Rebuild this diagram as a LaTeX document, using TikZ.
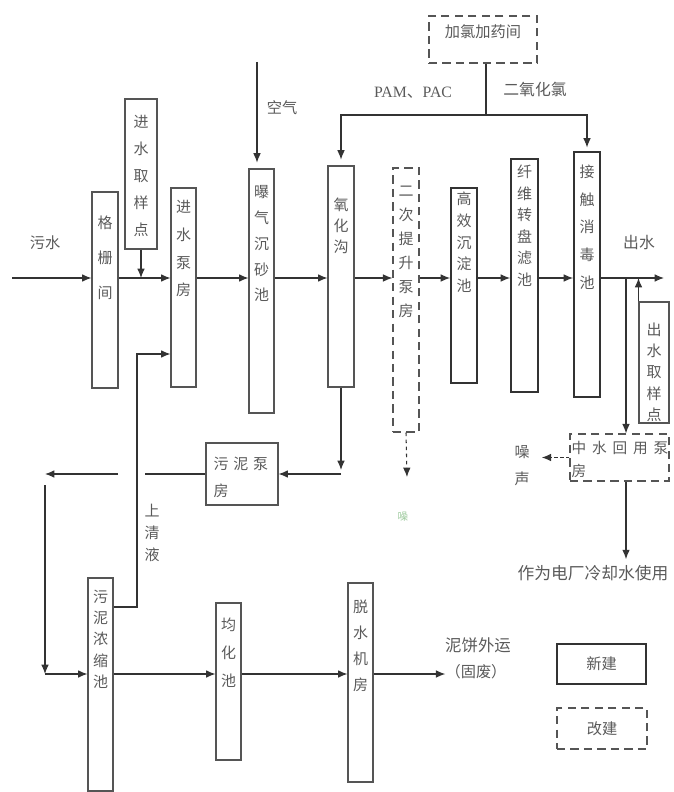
\documentclass[tikz,border=0pt]{standalone}
\usepackage{fontspec}
\setmainfont{Noto Sans CJK SC}
\newfontfamily\latinfont{Liberation Serif}
\usetikzlibrary{arrows.meta, calc}
\definecolor{linec}{HTML}{333333}
\definecolor{edgec}{HTML}{555555}
\definecolor{textc}{HTML}{5A5A5A}
\newcommand{\pxu}{0.03cm}
\tikzset{
  tank/.style  = {draw=edgec, rectangle, line width=0.9pt, inner sep=0pt},
  btank/.style = {tank, line width=1.6pt, draw=linec},
  dtank/.style = {tank, line width=1.1pt, dash pattern=on 7pt off 4.5pt},
  vt/.style    = {font=\fontsize{12.8}{#1}\selectfont, align=center,
                  inner sep=0pt, text=textc},
  htext/.style = {font=\fontsize{13}{15}\selectfont, inner sep=0pt, text=textc},
  pipe/.style  = {draw=linec, line width=0.9pt},
  flow/.style  = {pipe, -{Latex[length=8pt, width=6.5pt]}},
}

\begin{document}
\begin{tikzpicture}[x=0.03cm, y=-0.03cm]
  \useasboundingbox (0,0) rectangle (673,792);

  %% water line
  \node[tank, minimum width=26*\pxu, minimum height=196*\pxu,
        label={[vt=30pt, anchor=north, yshift=-24*\pxu]north:格\\栅\\间}]
        (grid) at (105,290) {};
  \node[tank, minimum width=32*\pxu, minimum height=150*\pxu,
        label={[vt=23pt, anchor=north, yshift=-17*\pxu]north:进\\水\\取\\样\\点}]
        (insample) at (141,174) {};
  \node[tank, minimum width=25*\pxu, minimum height=199*\pxu,
        label={[vt=23.5pt, anchor=north, yshift=-13*\pxu]north:进\\水\\泵\\房}]
        (inpump) at (183.5,287.5) {};
  \node[tank, minimum width=25*\pxu, minimum height=244*\pxu,
        label={[vt=22pt, anchor=north, yshift=-17*\pxu]north:曝\\气\\沉\\砂\\池}]
        (grit) at (261.5,291) {};
  \node[tank, minimum width=26*\pxu, minimum height=221*\pxu,
        label={[vt=18pt, anchor=north, yshift=-32*\pxu]north:氧\\化\\沟}]
        (oxd) at (341,276.5) {};
  \node[dtank, minimum width=26*\pxu, minimum height=264*\pxu,
        label={[vt=20.5pt, anchor=north, yshift=-18*\pxu]north:二\\次\\提\\升\\泵\\房}]
        (lift) at (406,300) {};
  \node[btank, minimum width=26*\pxu, minimum height=195*\pxu,
        label={[vt=18.5pt, anchor=north, yshift=-5*\pxu]north:高\\效\\沉\\淀\\池}]
        (sed) at (464,285.5) {};
  \node[btank, minimum width=27*\pxu, minimum height=233*\pxu,
        label={[vt=18.3pt, anchor=north, yshift=-7*\pxu]north:纤\\维\\转\\盘\\滤\\池}]
        (filt) at (524.5,275.5) {};
  \node[btank, minimum width=26*\pxu, minimum height=245*\pxu,
        label={[vt=23.5pt, anchor=north, yshift=-14*\pxu]north:接\\触\\消\\毒\\池}]
        (dis) at (587,274.5) {};
  \node[tank, minimum width=30*\pxu, minimum height=121*\pxu,
        label={[vt=18.2pt, anchor=north, yshift=-21*\pxu]north:出\\水\\取\\样\\点}]
        (outsample) at (654,362.5) {};

  %% dosing and reuse
  \node[dtank, minimum width=108*\pxu, minimum height=47*\pxu,
        label={[htext, anchor=north, yshift=-9*\pxu]north:加氯加药间}]
        (dose) at (483,39.5) {};
  \node[dtank, minimum width=99*\pxu, minimum height=47*\pxu,
        label={[htext, font=\fontsize{12.5}{19}\selectfont, align=left,
                anchor=north west, xshift=2*\pxu, yshift=-8*\pxu]north west:%
                中\hspace{5pt}水\hspace{5pt}回\hspace{5pt}用\hspace{5pt}泵\\房}]
        (reuse) at (619.5,457.5) {};

  %% sludge line
  \node[tank, minimum width=72*\pxu, minimum height=62*\pxu,
        label={[htext, font=\fontsize{12.8}{23}\selectfont, align=left,
                anchor=north west, xshift=8*\pxu, yshift=-14*\pxu]north west:%
                污\hspace{4pt}泥\hspace{4pt}泵\\房}]
        (spump) at (242,474) {};
  \node[tank, minimum width=25*\pxu, minimum height=213*\pxu,
        label={[vt=18.3pt, anchor=north, yshift=-12*\pxu]north:污\\泥\\浓\\缩\\池}]
        (thick) at (100.5,684.5) {};
  \node[tank, minimum width=25*\pxu, minimum height=157*\pxu,
        label={[vt=23.8pt, anchor=north, yshift=-15*\pxu]north:均\\化\\池}]
        (homog) at (228.5,681.5) {};
  \node[tank, minimum width=25*\pxu, minimum height=199*\pxu,
        label={[vt=22.2pt, anchor=north, yshift=-17*\pxu]north:脱\\水\\机\\房}]
        (dewater) at (360.5,682.5) {};

  %% legend
  \node[btank, htext, minimum width=89*\pxu, minimum height=40*\pxu]
        (newleg) at (601.5,664) {新建};
  \node[dtank, htext, minimum width=90*\pxu, minimum height=41*\pxu]
        (modleg) at (602,728.5) {改建};

  %% free texts
  \node[htext] (feedlbl)  at (45,243)  {污水};
  \node[htext] (airlbl)   at (282,108) {空气};
  \node[htext, font=\fontsize{13.5}{15}\latinfont] (pamlbl) at (413,93)
        {PAM{\fontspec{Noto Sans CJK SC}、}PAC};
  \node[htext, font=\fontsize{13.5}{15}\selectfont] (clolbl) at (535,89) {二氧化氯};
  \node[htext, font=\fontsize{13.5}{15}\selectfont] (outlbl) at (639,243) {出水};
  \node[vt=19pt] (superlbl) at (152,533) {上\\清\\液};
  \node[vt=23pt] (noise)  at (522,466) {噪\\声};
  \node[htext, font=\fontsize{9}{10}\selectfont, text=green!30!gray!60]
        (liftnoise) at (403,517) {噪};
  \node[htext, font=\fontsize{14.3}{16}\selectfont] (cool) at (593,573)
        {作为电厂冷却水使用};
  \node[htext, font=\fontsize{14}{16}\selectfont] (cake)  at (478,645) {泥饼外运};
  \node[htext, font=\fontsize{13}{15}\selectfont] (waste) at (476,672) {（固废）};

  %% main flow
  \coordinate (feed)   at (12,278);
  \coordinate (outlet) at (664,278);
  \draw[flow] (feed) -- (feed -| grid.west);
  \draw[flow] (grid.east |- feed)    -- (inpump.west |- feed);
  \draw[flow] (insample.south)       -- (insample.south |- feed);
  \draw[flow] (inpump.east |- feed)  -- (grit.west |- feed);
  \draw[flow] (grit.east |- feed)    -- (oxd.west |- feed);
  \draw[flow] (oxd.east |- feed)     -- (lift.west |- feed);
  \draw[flow] (lift.east |- feed)    -- (sed.west |- feed);
  \draw[flow] (sed.east |- feed)     -- (filt.west |- feed);
  \draw[flow] (filt.east |- feed)    -- (dis.west |- feed);
  \draw[flow] (dis.east |- feed)     -- (outlet);

  %% air and chemicals
  \coordinate (air) at (257,62);
  \draw[flow, shorten >=5pt] (air) -- (air |- grit.north);
  \coordinate (bus) at (486,115);
  \draw[pipe] (dose.south -| bus) -- (bus);
  \draw[flow, shorten >=5pt] (bus) -| (oxd.north);
  \draw[flow, shorten >=3pt] (bus) -| (dis.north);

  %% outlet branches
  \draw[flow] (outsample.north west) -- (outsample.north west |- feed);
  \coordinate (tap) at (626,278);
  \draw[flow] (tap) -- (tap |- reuse.north);
  \draw[flow, shorten >=5pt] (tap |- reuse.south) -- (tap |- cool.north);
  \draw[flow, dash pattern=on 3pt off 2pt]
       (reuse.west) -- ($(noise.east |- reuse.west)+(12,0)$);
  \coordinate (liftend) at (407,477);
  \draw[flow, dash pattern=on 3pt off 3pt] (lift.south) -- (liftend);

  %% sludge return
  \coordinate (sjoin) at (341,470);
  \draw[flow] (oxd.south) -- (sjoin);
  \draw[flow] (sjoin |- spump.east) -- (spump.east);
  \coordinate (gapE)  at (145,474);
  \coordinate (gapW)  at (118,474);
  \coordinate (sleft) at (45,474);
  \draw[pipe] (spump.west) -- (gapE);
  \draw[flow] (gapW) -- (sleft);
  \coordinate (sdown)   at (45,485);
  \coordinate (scorner) at (45,674);
  \draw[flow] (sdown) -- (scorner);
  \draw[flow] (scorner) -- (scorner -| thick.west);

  %% supernatant back to inlet pump
  \coordinate (retA) at (137,607);
  \coordinate (retB) at (137,354);
  \draw[flow] (retA -| thick.east) -- (retA) -- (retB) -- (retB -| inpump.west);

  %% sludge treatment
  \draw[flow] (thick.east |- scorner)  -- (homog.west |- scorner);
  \draw[flow] (homog.east |- scorner)  -- (dewater.west |- scorner);
  \draw[flow] (dewater.east |- scorner) -- (waste.west |- scorner);

\end{tikzpicture}
\end{document}
